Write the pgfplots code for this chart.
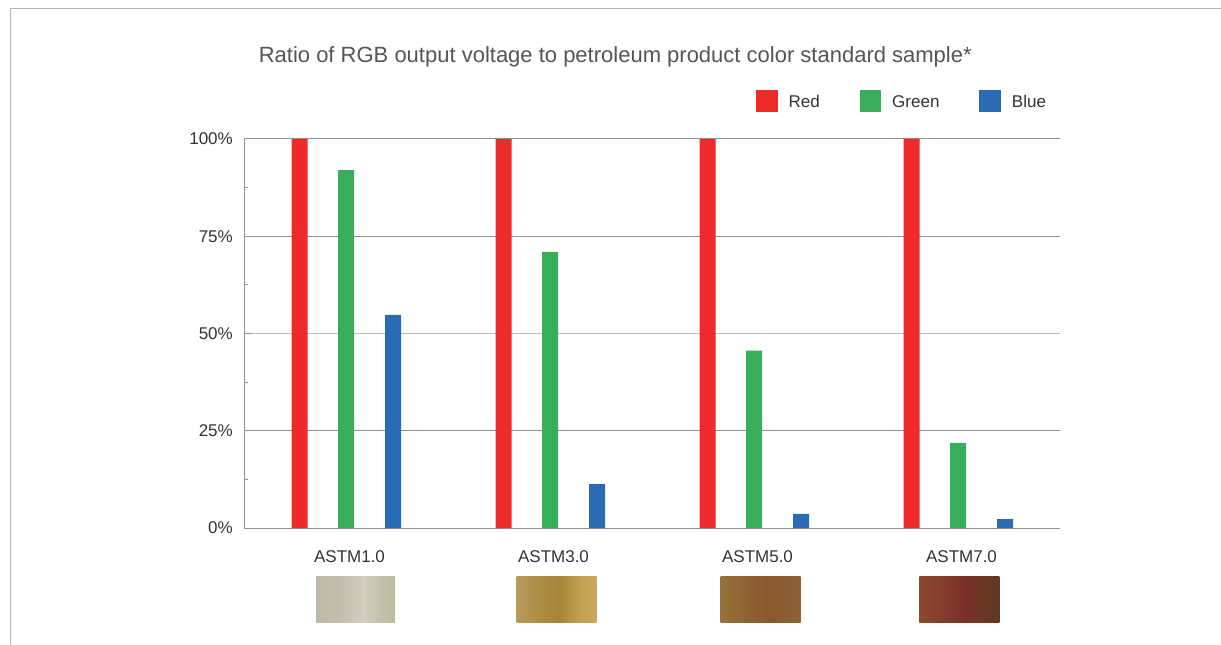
\documentclass[border=0pt]{standalone}
\usepackage{fontspec}
\setmainfont{Liberation Sans}
\usepackage{pgfplots}
\pgfplotsset{compat=1.18}

\definecolor{cred}{HTML}{EE2A2A}
\definecolor{cgreen}{HTML}{38AD5B}
\definecolor{cblue}{HTML}{2B6BB3}
\definecolor{gridgray}{HTML}{8E9093}
\definecolor{gridlight}{HTML}{BCBEC0}
\definecolor{framegray}{HTML}{B4B4B4}
\definecolor{txt}{HTML}{333333}
\definecolor{titlegray}{HTML}{555555}

% swatch colours
\definecolor{s1a}{HTML}{BDB9A7}\definecolor{s1b}{HTML}{C4BCAB}\definecolor{s1c}{HTML}{D2CFC1}\definecolor{s1d}{HTML}{C3C0A8}\definecolor{s1e}{HTML}{BEBB9E}
\definecolor{s2a}{HTML}{B89A5E}\definecolor{s2b}{HTML}{AB8C42}\definecolor{s2c}{HTML}{A8843A}\definecolor{s2d}{HTML}{C5A152}\definecolor{s2e}{HTML}{C9A760}
\definecolor{s3a}{HTML}{97703A}\definecolor{s3b}{HTML}{8D6231}\definecolor{s3c}{HTML}{89592F}\definecolor{s3d}{HTML}{8C6238}
\definecolor{s4a}{HTML}{8A4B30}\definecolor{s4b}{HTML}{7A3026}\definecolor{s4c}{HTML}{5F3A20}

\pgfdeclarehorizontalshading{sw1}{100bp}{color(0bp)=(s1a); color(25bp)=(s1a); color(40bp)=(s1b); color(55bp)=(s1c); color(67bp)=(s1d); color(75bp)=(s1e); color(100bp)=(s1e)}
\pgfdeclarehorizontalshading{sw2}{100bp}{color(0bp)=(s2a); color(25bp)=(s2a); color(40bp)=(s2b); color(52bp)=(s2c); color(65bp)=(s2d); color(75bp)=(s2e); color(100bp)=(s2e)}
\pgfdeclarehorizontalshading{sw3}{100bp}{color(0bp)=(s3a); color(25bp)=(s3a); color(42bp)=(s3b); color(55bp)=(s3c); color(75bp)=(s3d); color(100bp)=(s3d)}
\pgfdeclarehorizontalshading{sw4}{100bp}{color(0bp)=(s4a); color(25bp)=(s4a); color(53bp)=(s4b); color(75bp)=(s4c); color(100bp)=(s4c)}

\pgfplotsset{
  sq legend/.style={legend image code/.code={\fill[##1] (0bp,-9.7bp) rectangle (21.5bp,11.8bp);}},
}

\begin{document}
\begin{tikzpicture}
\begin{axis}[
  at={(244bp,117bp)}, anchor=south west,
  scale only axis, width=816bp, height=389bp,
  xmin=-0.5, xmax=3.5, ymin=0, ymax=100,
  axis x line*=bottom, axis y line*=left,
  axis line style={-, draw=gridgray, line width=1bp},
  ybar, bar width=16bp,
  xtick={0,1,2,3},
  xticklabels={ASTM1.0,ASTM3.0,ASTM5.0,ASTM7.0},
  x tick style={draw=none},
  xticklabel style={anchor=base, yshift=-34bp, xshift=3.5bp},
  ytick={0,25,75,100},
  extra y ticks={50},
  extra y tick style={grid style={draw=gridlight, line width=1bp}},
  minor ytick={12.5,37.5,62.5,87.5},
  tick align=inside, major tick length=8bp, minor tick length=4bp,
  y tick style={draw=gridgray, line width=1bp},
  ymajorgrids, grid style={draw=gridgray, line width=1bp},
  yticklabel={\pgfmathprintnumber{\tick}\%},
  /pgf/number format/assume math mode=true,
  yticklabel style={anchor=east, inner sep=0pt, xshift=-11bp},
  ticklabel style={font=\fontsize{17bp}{20bp}\selectfont, text=txt},
  title={Ratio of RGB output voltage to petroleum product color standard sample*},
  title style={at={(0.455,1.181)}, anchor=base, inner sep=0pt,
    font=\fontsize{22bp}{26bp}\selectfont, text=titlegray},
  legend columns=-1,
  legend style={draw=none, fill=none, inner sep=0pt, outer sep=0pt,
    at={(0.6275,1.0977)}, anchor=west,
    font=\fontsize{17bp}{20bp}\selectfont, text=txt,
    /tikz/every odd column/.style={column sep=9bp},
    /tikz/every even column/.style={column sep=38bp}},
  clip=false,
]
\addplot[fill=cred, draw=none, bar shift=-46.5bp, sq legend]
  coordinates {(0,100) (1,100) (2,100) (3,100)};
\addplot[fill=cgreen, draw=none, bar shift=0bp, sq legend]
  coordinates {(0,92.0) (1,71.0) (2,45.6) (3,21.9)};
\addplot[fill=cblue, draw=none, bar shift=47bp, sq legend]
  coordinates {(0,54.8) (1,11.3) (2,3.6) (3,2.3)};
\legend{Red, Green, Blue}

% colour standard swatches
\shade[shading=sw1] ([xshift=-30bp,yshift=-48bp]axis cs:0,0) rectangle ([xshift=49bp,yshift=-94bp]axis cs:0,0);
\shade[shading=sw2] ([xshift=-33.3bp,yshift=-48bp]axis cs:1,0) rectangle ([xshift=46.7bp,yshift=-94bp]axis cs:1,0);
\shade[shading=sw3] ([xshift=-33.3bp,yshift=-48bp]axis cs:2,0) rectangle ([xshift=46.7bp,yshift=-94bp]axis cs:2,0);
\shade[shading=sw4] ([xshift=-38.7bp,yshift=-48bp]axis cs:3,0) rectangle ([xshift=41.3bp,yshift=-94bp]axis cs:3,0);
\end{axis}
\draw[framegray, line width=1.5bp] (10.5bp,0bp) -- (10.5bp,636.5bp) -- (1221bp,636.5bp);
\pgfresetboundingbox
\useasboundingbox (0bp,0bp) rectangle (1221bp,645bp);
\end{tikzpicture}
\end{document}
